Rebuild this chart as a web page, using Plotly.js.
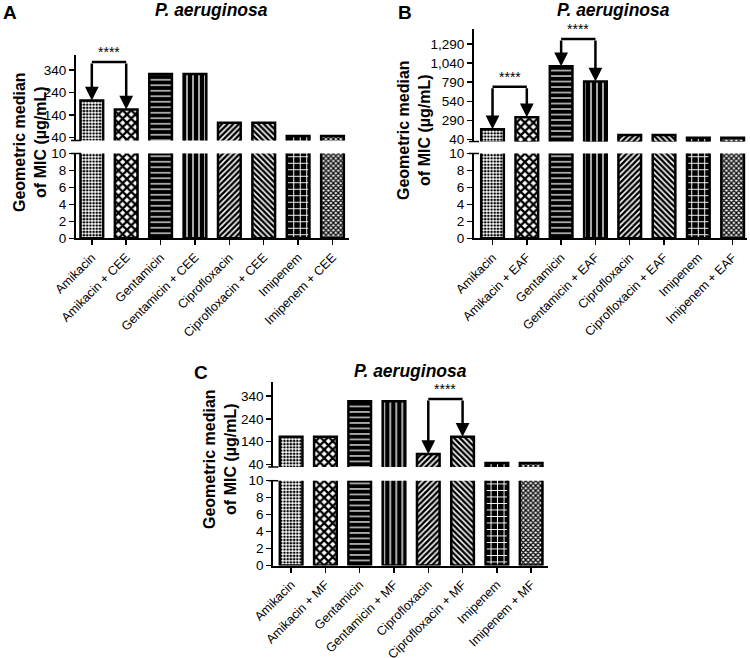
<!DOCTYPE html>
<html><head><meta charset="utf-8">
<script src="https://cdn.plot.ly/plotly-3.0.1.min.js"></script>
<style>html,body{margin:0;padding:0;background:#fff}#chart{width:750px;height:658px}</style>
</head><body><div id="chart"></div>
<script>
// ---------- data ----------
const catsA = ["Amikacin","Amikacin + CEE","Gentamicin","Gentamicin + CEE","Ciprofloxacin","Ciprofloxacin + CEE","Imipenem","Imipenem + CEE"];
const valsA = [205, 165, 322, 322, 106, 106, 47, 47];
const pairsA = [[0, 1]];
const levelsA = [376];
const starsA = ["****"];

const catsB = ["Amikacin","Amikacin + EAF","Gentamicin","Gentamicin + EAF","Ciprofloxacin","Ciprofloxacin + EAF","Imipenem","Imipenem + EAF"];
const valsB = [173, 330, 1000, 800, 99, 99, 64, 64];
const pairsB = [[0, 1], [2, 3]];
const levelsB = [731, 1355];
const starsB = ["****", "****"];

const catsC = ["Amikacin","Amikacin + MF","Gentamicin","Gentamicin + MF","Ciprofloxacin","Ciprofloxacin + MF","Imipenem","Imipenem + MF"];
const valsC = [161, 161, 318, 318, 85, 161, 46, 46];
const pairsC = [[4, 5]];
const levelsC = [328];
const starsC = ["****"];

const lowerTicks = [0, 2, 4, 6, 8, 10];
const upperTicksA = [40, 140, 240, 340];
const upperTicksB = [40, 290, 540, 790, 1040, 1290];
const upperTicksC = [40, 140, 240, 340];

const panelLetters = ["A", "B", "C"];
const panelTitle = "<i>P. aeruginosa</i>";
const yTitle = "Geometric median<br>of MIC (µg/mL)";

// ---------- styles ----------
const W = 750, H = 658;
const FONT = "Liberation Sans, Arial, sans-serif";
const px = v => v / W;
const py = v => 1 - v / H;

const patShape = [".", "x", "-", "|", "/", "\\", "+", "x"];
const patFg    = ["#000", "#000", "#e0e0e0", "#e0e0e0", "#000", "#000", "#fff", "#000"];
const patBg    = ["#fff", "#fff", "#000", "#000", "#fff", "#fff", "#000", "#fff"];
const patSize  = [3.2, 6, 5.5, 6, 4, 4, 6.5, 3.5];
const patSol   = [0.5, 0.62, 0.25, 0.25, 0.62, 0.62, 0.28, 0.6];

const panels = [
  {cats: catsA, vals: valsA, pairs: pairsA, levels: levelsA, stars: starsA, uticks: upperTicksA,
   xa: "x", ya: "y", yb: "y2", xk: "xaxis", yak: "yaxis", ybk: "yaxis2",
   xdom: [76, 349], lower: [153.5, 238.3], upper: [55, 140.5], urange: [26.7, 406.7], xr: [-0.46, 7.48],
   letter: [1, 0], title: [211, 10], ytitle: [30, 142]},
  {cats: catsB, vals: valsB, pairs: pairsB, levels: levelsB, stars: starsB, uticks: upperTicksB,
   xa: "x2", ya: "y3", yb: "y4", xk: "xaxis2", yak: "yaxis3", ybk: "yaxis4",
   xdom: [474, 746.7], lower: [153.5, 238.3], upper: [29.3, 141.5], urange: [13.8, 1482], xr: [-0.54, 7.41],
   letter: [396, 0], title: [613, 10], ytitle: [414, 130]},
  {cats: catsC, vals: valsC, pairs: pairsC, levels: levelsC, stars: starsC, uticks: upperTicksC,
   xa: "x3", ya: "y5", yb: "y6", xk: "xaxis3", yak: "yaxis5", ybk: "yaxis6",
   xdom: [273.3, 548.3], lower: [480.7, 565.5], upper: [381.7, 467], urange: [28, 403.9], xr: [-0.52, 7.5],
   letter: [192, 360], title: [410, 371], ytitle: [220, 459]}
];

const traces = [];
const layout = {
  width: W, height: H, margin: {l: 0, r: 0, t: 0, b: 0},
  paper_bgcolor: "#fff", plot_bgcolor: "#fff", showlegend: false,
  font: {family: FONT, color: "#000", size: 13.5},
  annotations: [], shapes: []
};

const axisCommon = {
  showline: true, linewidth: 2, linecolor: "#000", showgrid: false, zeroline: false,
  ticks: "outside", ticklen: 5, tickwidth: 1.5, tickcolor: "#000",
  tickfont: {family: FONT, size: 13.5, color: "#000"}, fixedrange: true
};

panels.forEach((p, k) => {
  const idx = p.cats.map((_, i) => i);
  const marker = {
    color: "#fff",
    line: {color: "#000", width: 2.5},
    pattern: {shape: patShape, fgcolor: patFg, bgcolor: patBg, size: patSize, solidity: patSol, fillmode: "replace"}
  };
  [p.ya, p.yb].forEach(yax => {
    traces.push({type: "bar", x: idx, y: p.vals, xaxis: p.xa, yaxis: yax, width: 0.66,
      marker: marker, hoverinfo: "skip", showlegend: false});
  });

  layout[p.xk] = Object.assign({}, axisCommon, {
    domain: [px(p.xdom[0]), px(p.xdom[1])], range: p.xr, anchor: p.ya,
    tickvals: idx, ticktext: p.cats, tickangle: -45,
    tickfont: {family: FONT, size: 12.5, color: "#000"}
  });
  layout[p.yak] = Object.assign({}, axisCommon, {
    domain: [py(p.lower[1]), py(p.lower[0])], range: [0, 10], anchor: p.xa,
    tickvals: lowerTicks
  });
  layout[p.ybk] = Object.assign({}, axisCommon, {
    domain: [py(p.upper[1]), py(p.upper[0])], range: p.urange, anchor: p.xa,
    tickvals: p.uticks, tickformat: ",d"
  });

  // break stubs on the y axis
  const x0 = p.xdom[0];
  [p.upper[1], p.lower[0]].forEach(yy => {
    layout.shapes.push({type: "line", xref: "paper", yref: "paper",
      x0: px(x0 - 5), x1: px(x0 + 5), y0: py(yy), y1: py(yy), line: {color: "#000", width: 1.5}});
  });

  // significance brackets
  p.pairs.forEach((pr, m) => {
    const lvl = p.levels[m];
    pr.forEach(i => {
      layout.annotations.push({x: i, y: p.vals[i], xref: p.xa, yref: p.yb,
        ax: i, ay: lvl, axref: p.xa, ayref: p.yb, text: "", showarrow: true,
        arrowhead: 2, arrowsize: 1.1, arrowwidth: 2.5, arrowcolor: "#000", standoff: 0});
    });
    layout.shapes.push({type: "line", xref: p.xa, yref: p.yb, x0: pr[0], x1: pr[1], y0: lvl, y1: lvl,
      line: {color: "#000", width: 2.5}});
    layout.annotations.push({x: (pr[0] + pr[1]) / 2, y: lvl, xref: p.xa, yref: p.yb, text: p.stars[m],
      showarrow: false, yanchor: "bottom", yshift: 0, font: {family: FONT, size: 14, color: "#000"}});
  });

  // panel letter, title, y-axis title
  layout.annotations.push({x: px(p.letter[0]), y: py(p.letter[1]), xref: "paper", yref: "paper",
    xanchor: "left", yanchor: "top", text: "<b>" + panelLetters[k] + "</b>", showarrow: false,
    font: {family: FONT, size: 19, color: "#000"}});
  layout.annotations.push({x: px(p.title[0]), y: py(p.title[1]), xref: "paper", yref: "paper",
    xanchor: "center", yanchor: "middle", text: "<b>" + panelTitle + "</b>", showarrow: false,
    font: {family: FONT, size: 17.5, color: "#000"}});
  layout.annotations.push({x: px(p.ytitle[0]), y: py(p.ytitle[1]), xref: "paper", yref: "paper",
    xanchor: "center", yanchor: "middle", textangle: -90, text: "<b>" + yTitle + "</b>", showarrow: false,
    font: {family: FONT, size: 16, color: "#000"}});
});

Plotly.newPlot("chart", traces, layout, {staticPlot: true, displayModeBar: false});
</script>
</body></html>
